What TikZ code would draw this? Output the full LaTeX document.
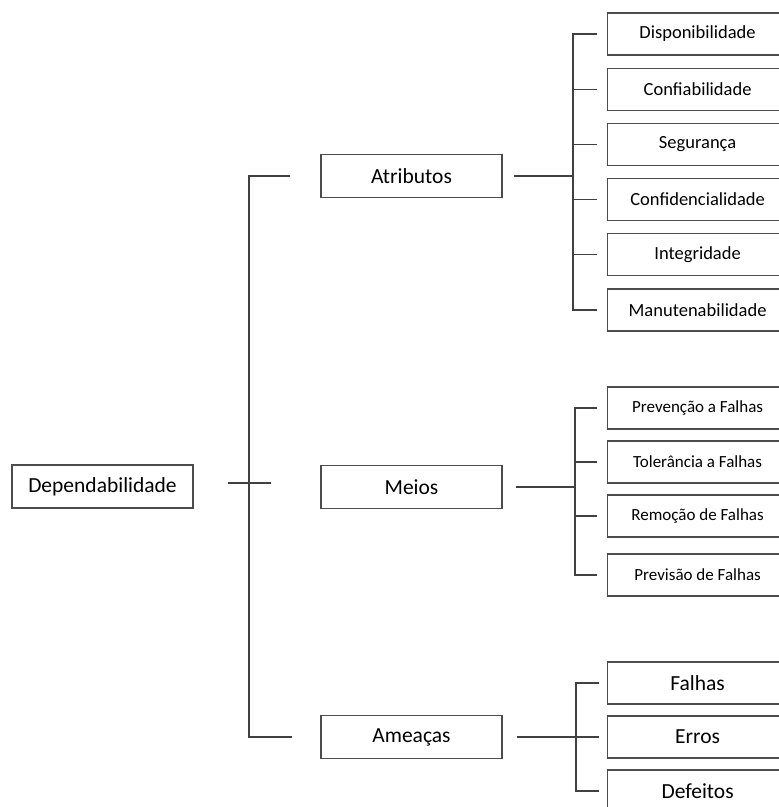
\documentclass[tikz,border=0pt]{standalone}
\usepackage{fontspec}
\setmainfont{Carlito}
\usetikzlibrary{calc}

\tikzset{
  caixa/.style={draw=black!70, line width=1.2pt, minimum width=181pt, minimum height=43pt,
    inner sep=0pt, font=\fontsize{21.5}{25}\selectfont},
  folha/.style={caixa, anchor=west, minimum width=180pt, minimum height=42pt},
  linha/.style={draw=black!75, line width=1.2pt},
}

\begin{document}
\begin{tikzpicture}[x=1pt, y=-1pt]
  \useasboundingbox (0,0) rectangle (779,807);

  \node[caixa] (dep) at (102.5,486.5) {Dependabilidade};
  \node[caixa] (atrib) at (411.5,176) {Atributos};
  \node[caixa] (meios) at (411.5,487) {Meios};
  \node[caixa] (ameacas) at (411.5,737) {Ameaças};

  % folhas
  \foreach \txt [count=\i] in {Disponibilidade, Confiabilidade, Segurança,
      Confidencialidade, Integridade, Manutenabilidade}
    \node[folha, font=\fontsize{18.5}{22}\selectfont] (a\i) at (607,{34+55.2*(\i-1)}) {\txt};
  \foreach \txt/\y [count=\i] in {Prevenção a Falhas/408, Tolerância a Falhas/462,
      Remoção de Falhas/516, Previsão de Falhas/575}
    \node[folha, font=\fontsize{17}{20}\selectfont] (m\i) at (607,\y) {\txt};
  \foreach \txt [count=\i] in {Falhas, Erros, Defeitos}
    \node[folha] (e\i) at (607,{683+54*(\i-1)}) {\txt};

  \coordinate (tronco) at (249,483);
  \coordinate (abus) at (573,176);
  \coordinate (mbus) at (575,487);
  \coordinate (ebus) at (576,737);

  \draw[linha, shorten <=30pt, shorten >=28pt] (atrib.west) -| (tronco) |- (ameacas.west);
  \draw[linha] ([xshift=-21pt]tronco) -- ([xshift=22pt]tronco);

  \draw[linha, shorten <=11pt] (atrib.east) -- (abus);
  \draw[linha, shorten <=10pt, shorten >=10pt] (a1.west) -| (abus) |- (a6.west);
  \foreach \i in {2,...,5}
    \draw[linha, shorten >=10pt] (abus |- a\i.west) -- (a\i.west);

  \draw[linha, shorten <=13pt] (meios.east) -- (mbus);
  \draw[linha, shorten <=10pt, shorten >=10pt] (m1.west) -| (mbus) |- (m4.west);
  \foreach \i in {2,3}
    \draw[linha, shorten >=10pt] (mbus |- m\i.west) -- (m\i.west);

  \draw[linha, shorten <=14pt, shorten >=8pt] (ameacas.east) -- (e2.west);
  \draw[linha, shorten <=8pt, shorten >=8pt] (e1.west) -| (ebus) |- (e3.west);
\end{tikzpicture}
\end{document}
